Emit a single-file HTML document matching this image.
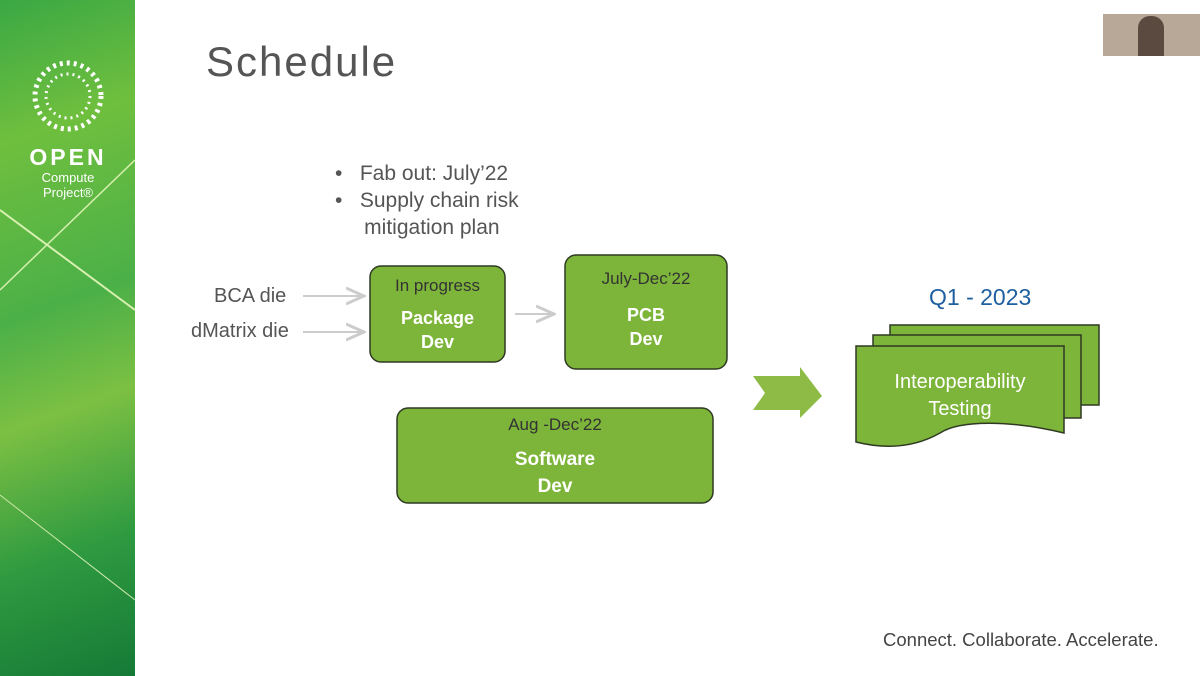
<!DOCTYPE html>
<html><head><meta charset="utf-8"><style>
body{margin:0;width:1200px;height:676px;overflow:hidden;background:#fff;font-family:"Liberation Sans",sans-serif;position:relative}
.side{position:absolute;left:0;top:0;width:135px;height:676px;background:linear-gradient(160deg,#3aa844 0%,#6fbf3e 20%,#4bb048 45%,#7cc043 60%,#2e9a40 80%,#157a36 100%);overflow:hidden}
.t{position:absolute;white-space:nowrap}
</style></head><body>
<div class="side">
<svg width="135" height="676" style="position:absolute;left:0;top:0">
<line x1="0" y1="210" x2="135" y2="310" stroke="#d8f0b0" stroke-width="2"/>
<line x1="0" y1="290" x2="135" y2="160" stroke="#d8f0b0" stroke-width="1.5"/>
<line x1="0" y1="495" x2="135" y2="600" stroke="#cde8a8" stroke-width="1"/>
<circle cx="68" cy="96" r="33" fill="none" stroke="#fff" stroke-width="5" stroke-dasharray="3 4"/>
<circle cx="68" cy="96" r="22" fill="none" stroke="#fff" stroke-width="3" stroke-dasharray="2 4"/>
<text x="68" y="165" font-family="Liberation Sans" font-weight="bold" font-size="23" fill="#fff" text-anchor="middle" letter-spacing="3">OPEN</text>
<text x="68" y="182" font-family="Liberation Sans" font-size="13" fill="#fff" text-anchor="middle">Compute</text>
<text x="68" y="197" font-family="Liberation Sans" font-size="13" fill="#fff" text-anchor="middle">Project®</text>
</svg></div>
<div style="position:absolute;left:1103px;top:14px;width:97px;height:42px;background:#b8a898"></div>
<div style="position:absolute;left:1138px;top:16px;width:26px;height:40px;background:#5a4a40;border-radius:12px 12px 0 0"></div>
<div class="t" style="left:206px;top:38px;font-size:42px;color:#555;letter-spacing:2px">Schedule</div>
<div class="t" style="left:335px;top:160px;font-size:21px;color:#555;line-height:27px">•&nbsp;&nbsp;&nbsp;Fab out: July’22<br>•&nbsp;&nbsp;&nbsp;Supply chain risk<br>&nbsp;&nbsp;&nbsp;&nbsp;&nbsp;mitigation plan</div>
<div class="t" style="left:214px;top:285px;font-size:20px;color:#555">BCA die</div>
<div class="t" style="left:191px;top:320px;font-size:20px;color:#555">dMatrix die</div>
<svg width="1200" height="676" style="position:absolute;left:0;top:0">
<defs><marker id="a" markerWidth="10" markerHeight="10" refX="8" refY="5" orient="auto"><path d="M0,1 L9,5 L0,9" fill="none" stroke="#ccc" stroke-width="1.5"/></marker></defs>
<line x1="303" y1="296" x2="362" y2="296" stroke="#ccc" stroke-width="2" marker-end="url(#a)"/>
<line x1="303" y1="332" x2="362" y2="332" stroke="#ccc" stroke-width="2" marker-end="url(#a)"/>
<line x1="515" y1="314" x2="552" y2="314" stroke="#ccc" stroke-width="2" marker-end="url(#a)"/>
<rect x="370" y="266" width="135" height="96" rx="11" fill="#7db43a" stroke="#2f3a22" stroke-width="1.5"/>
<rect x="565" y="255" width="162" height="114" rx="11" fill="#7db43a" stroke="#2f3a22" stroke-width="1.5"/>
<rect x="397" y="408" width="316" height="95" rx="11" fill="#7db43a" stroke="#2f3a22" stroke-width="1.5"/>
<path d="M753,376 L800,376 L800,367 L822,396 L800,418 L800,410 L753,410 L765,393 Z" fill="#8dbb45"/>
<path d="M890,325 L1099,325 L1099,405 L890,405 Z" fill="#7db43a" stroke="#2f3a22" stroke-width="1.5"/>
<path d="M873,335 L1081,335 L1081,418 L873,418 Z" fill="#7db43a" stroke="#2f3a22" stroke-width="1.5"/>
<path d="M856,346 L1064,346 L1064,433 C1010,420 960,420 940,433 C910,450 880,448 856,442 Z" fill="#7db43a" stroke="#2f3a22" stroke-width="1.5"/>
</svg>
<div class="t" style="left:370px;width:135px;text-align:center;top:276px;font-size:17px;color:#333">In progress</div>
<div class="t" style="left:370px;width:135px;text-align:center;top:306px;font-size:18px;font-weight:bold;color:#fff;line-height:24px">Package<br>Dev</div>
<div class="t" style="left:565px;width:162px;text-align:center;top:269px;font-size:17px;color:#333">July-Dec’22</div>
<div class="t" style="left:565px;width:162px;text-align:center;top:303px;font-size:18px;font-weight:bold;color:#fff;line-height:24px">PCB<br>Dev</div>
<div class="t" style="left:397px;width:316px;text-align:center;top:415px;font-size:17px;color:#333">Aug -Dec’22</div>
<div class="t" style="left:397px;width:316px;text-align:center;top:446px;font-size:19px;font-weight:bold;color:#fff;line-height:27px">Software<br>Dev</div>
<div class="t" style="left:929px;top:284px;font-size:23px;color:#1d5fa0">Q1 - 2023</div>
<div class="t" style="left:856px;width:208px;text-align:center;top:369px;font-size:20px;color:#fff;line-height:27px">Interoperability<br>Testing</div>
<div class="t" style="left:883px;top:629px;font-size:18.5px;color:#444">Connect. Collaborate. Accelerate.</div>
</body></html>
